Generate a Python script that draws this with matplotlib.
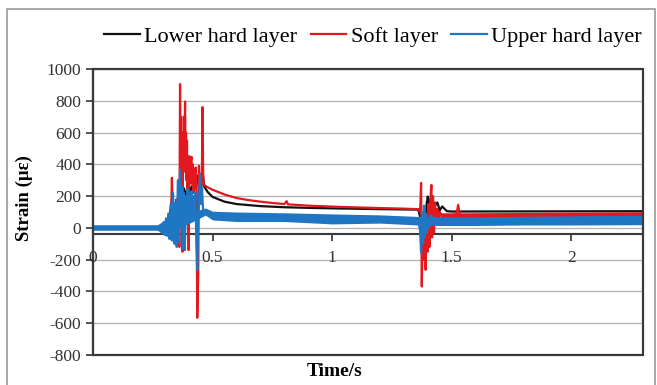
import numpy as np
import matplotlib.pyplot as plt
from matplotlib.patches import Rectangle

# Lower hard layer (black)
t_lower = [0.000, 0.300, 0.315, 0.325, 0.332, 0.338, 0.345, 0.352, 0.360, 0.370, 0.380,
           0.390, 0.400, 0.410, 0.420, 0.430, 0.440, 0.450, 0.455, 0.460, 0.465, 0.480,
           0.500, 0.550, 0.600, 0.700, 0.800, 0.900, 1.000, 1.200, 1.360, 1.370, 1.380,
           1.390, 1.395, 1.400, 1.405, 1.410, 1.415, 1.420, 1.430, 1.440, 1.450, 1.460,
           1.480, 1.500, 2.300]
v_lower = [0, 0, 30, 120, 200, 80, 150, 100, 200, 150, 250,
           200, 280, 220, 300, 250, 330, 200, 300, 330, 260, 225,
           195, 165, 150, 137, 130, 126, 123, 118, 115, 60, -60,
           -120, 150, 197, 140, 180, 120, 170, 140, 160, 110, 135,
           105, 103, 105]

# Soft layer (red)
t_soft = [0.000, 0.300, 0.310, 0.318, 0.322, 0.327, 0.330, 0.333, 0.337, 0.341, 0.345,
          0.349, 0.353, 0.357, 0.361, 0.364, 0.366, 0.368, 0.370, 0.372, 0.374, 0.376,
          0.378, 0.380, 0.382, 0.385, 0.387, 0.389, 0.391, 0.393, 0.395, 0.397, 0.400,
          0.402, 0.404, 0.406, 0.409, 0.412, 0.414, 0.417, 0.420, 0.423, 0.426, 0.429,
          0.432, 0.436, 0.440, 0.443, 0.447, 0.451, 0.455, 0.458, 0.461, 0.465, 0.480,
          0.500, 0.550, 0.600, 0.650, 0.700, 0.750, 0.800, 0.810, 0.815, 0.850, 0.900,
          1.000, 1.100, 1.200, 1.300, 1.360, 1.368, 1.372, 1.375, 1.379, 1.383, 1.387,
          1.391, 1.395, 1.399, 1.403, 1.407, 1.411, 1.415, 1.418, 1.422, 1.426, 1.430,
          1.435, 1.440, 1.445, 1.450, 1.460, 1.500, 1.520, 1.527, 1.533, 1.540, 1.600,
          1.800, 2.000, 2.300]
v_soft = [0, 0, -20, 60, -40, 100, 315, 80, -60, 120, -80,
          180, -100, 250, -120, 905, 400, 700, 300, 600, -150, 500,
          350, 700, 450, 795, 400, 600, 300, 550, 250, 450, -140,
          350, 450, 280, 420, 447, 280, 400, 220, 350, 260, 380,
          300, -566, -300, 390, 250, 330, 280, 760, 300, 270, 255,
          240, 210, 188, 175, 165, 157, 150, 168, 148, 145, 140,
          134, 129, 125, 121, 118, 100, 283, -369, 80, -200, 120,
          -264, 60, -150, 150, -120, 180, 270, -60, 200, -30, 160,
          40, 120, 60, 100, 75, 80, 85, 145, 90, 80, 82,
          84, 86, 90]
# noisy band of the soft layer after the second event
t_soft_band = [1.45, 1.60, 1.80, 2.00, 2.30]
lo_soft_band = [65, 65, 68, 70, 72]
hi_soft_band = [95, 95, 97, 99, 100]

# Upper hard layer (blue)
t_upper = [0.000, 0.270, 0.285, 0.290, 0.295, 0.300, 0.305, 0.310, 0.315, 0.320, 0.325,
           0.330, 0.335, 0.340, 0.345, 0.350, 0.355, 0.360, 0.364, 0.368, 0.372, 0.376,
           0.380, 0.384, 0.388, 0.392, 0.396, 0.400, 0.404, 0.408, 0.412, 0.416, 0.420,
           0.424, 0.428, 0.432, 0.436, 0.440, 0.444, 0.448, 0.452, 0.456, 0.460, 0.465,
           0.470, 0.500, 0.600, 0.800, 1.000, 1.200, 1.360, 1.368, 1.372, 1.376, 1.380,
           1.384, 1.388, 1.392, 1.396, 1.400, 1.405, 1.410, 1.415, 1.420, 1.430, 1.450,
           1.600, 2.300]
v_upper = [0, 0, 15, -20, 35, -40, 60, -50, 90, -70, 150,
           -80, 220, -100, 160, -120, 300, -90, 365, 60, 260, -130,
           220, -140, 200, 40, 240, 80, 200, 60, 230, 100, 200,
           80, 220, -60, -265, 60, 200, 340, 150, 250, 120, 100,
           113, 85, 75, 70, 60, 58, 45, -20, -157, 100, -100,
           140, -60, 90, -30, 60, 0, 80, 20, 70, 40, 50,
           50, 52]
# noise envelope of the upper hard layer
t_upper_band = [0.00, 0.27, 0.30, 0.47, 0.50, 0.60, 0.80, 1.00, 1.20, 1.36, 1.37,
                1.45, 1.60, 1.80, 2.00, 2.30]
lo_upper_band = [-15, -15, -50, 80, 50, 40, 40, 25, 30, 18, 18,
                 15, 15, 18, 18, 20]
hi_upper_band = [20, 20, 50, 125, 105, 100, 95, 88, 82, 72, 72,
                 70, 70, 73, 76, 80]

y_ticks = [-800, -600, -400, -200, 0, 200, 400, 600, 800, 1000]
x_ticks = [0, 0.5, 1, 1.5, 2]
x_ticklabels = ['0', '0.5', '1', '1.5', '2']

c_lower = '#111111'
c_soft = '#e3171e'
c_upper = '#1f77c4'

plt.rcParams['font.family'] = ['Liberation Serif', 'DejaVu Serif']
plt.rcParams['axes.unicode_minus'] = False

fig = plt.figure(figsize=(6.57, 3.85), dpi=100)
ax = fig.add_axes([93/657, 1-355/385, (643-93)/657, (355-69)/385])

for y in y_ticks:
    ax.axhline(y, color='#b0b0b0', lw=0.9, zorder=0)

ax.plot(t_lower, v_lower, color=c_lower, lw=1.6, label='Lower hard layer', zorder=2)
ax.plot(t_soft, v_soft, color=c_soft, lw=1.6, label='Soft layer', zorder=3)
ax.fill_between(t_soft_band, lo_soft_band, hi_soft_band, color=c_soft, lw=0, zorder=3)
ax.plot(t_upper, v_upper, color=c_upper, lw=1.6, label='Upper hard layer', zorder=4)
ax.fill_between(t_upper_band, lo_upper_band, hi_upper_band, color=c_upper, lw=0, zorder=4)

ax.set_xlim(0, 2.3)
ax.set_ylim(-800, 1000)
ax.set_yticks(y_ticks)
ax.set_xticks(x_ticks)
ax.set_xticklabels(x_ticklabels)
ax.tick_params(axis='both', labelsize=12.5, colors='#333333', length=5, width=1.2)
ax.tick_params(axis='x', pad=6)

for s in ['top', 'right']:
    ax.spines[s].set_visible(False)
ax.spines['bottom'].set_position(('data', -40))
ax.spines['bottom'].set_color('#3a3a3a')
ax.spines['bottom'].set_linewidth(1.5)
ax.spines['left'].set_color('#3a3a3a')
ax.spines['left'].set_linewidth(1.5)
ax.add_patch(Rectangle((0, 0), 1, 1, transform=ax.transAxes, fill=False,
                       ec='#3a3a3a', lw=1.6, clip_on=False, zorder=6))

ax.set_ylabel('Strain (με)', fontsize=13.5, fontweight='bold')
ax.yaxis.set_label_coords(-0.11, 0.55)
fig.text(335/657, 1-372/385, 'Time/s', fontsize=14, fontweight='bold',
         ha='center', va='center')

fig.legend(loc='center', bbox_to_anchor=(373/657, 1-37/385), ncol=3, frameon=False,
           fontsize=16, handlelength=1.6, handletextpad=0.2, columnspacing=0.6,
           borderaxespad=0)

fig.add_artist(Rectangle((7/657, -0.01), 648/657, 1-9/385+0.01, transform=fig.transFigure,
                         fill=False, ec='#9a9a9a', lw=1.2))

fig.savefig('out.png', dpi=100)
